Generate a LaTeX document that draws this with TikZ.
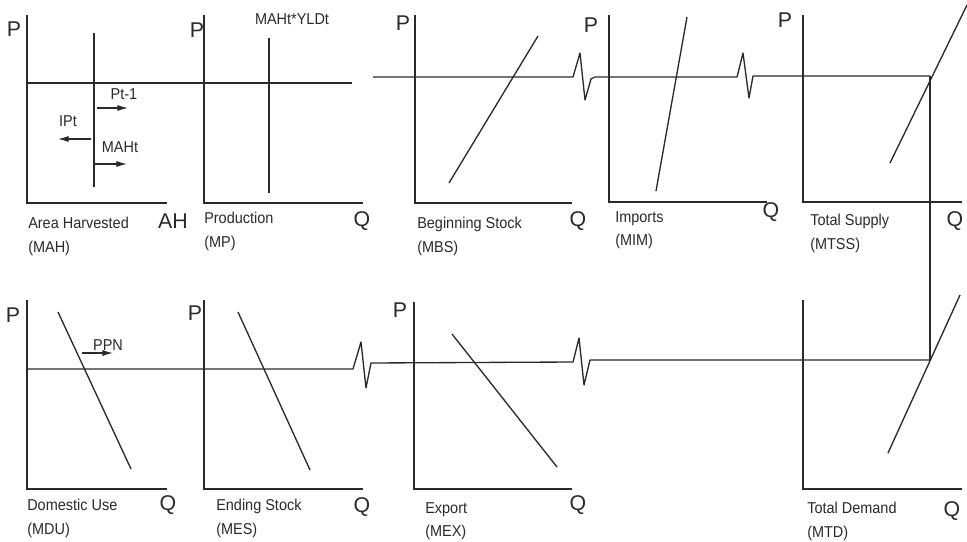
\documentclass[tikz,border=0pt]{standalone}
\usepackage{fontspec}
\setmainfont{Liberation Sans}
\newfontfamily\narrowfont[FakeStretch=0.92]{Liberation Sans}
\usetikzlibrary{arrows.meta}
\definecolor{ScanInk}{HTML}{2A2A2A}

\begin{document}
\begin{tikzpicture}[x=0.75pt,y=-0.75pt,
  axisline/.style={draw=ScanInk,line width=1pt},
  schedule/.style={draw=ScanInk,line width=1pt,line join=round},
  move/.style={draw=ScanInk,line width=0.9pt,-{Latex[length=8pt,width=4.6pt]}},
  axlbl/.style={text=ScanInk,font=\fontsize{16}{16}\selectfont,inner sep=0pt},
  tag/.style={text=ScanInk,font=\narrowfont\fontsize{11.8}{13}\selectfont,inner sep=0pt},
  panelname/.style={text=ScanInk,font=\narrowfont\fontsize{11.8}{17.5}\selectfont,inner sep=0pt,anchor=north west,align=left}
]
\useasboundingbox (0,0) rectangle (967,542);

% top row: area, production, stocks, imports, supply
\draw[axisline] (27,15) -- (27,203) -- (167,203);
\draw[axisline] (204,15) -- (204,203) -- (363,203);
\draw[axisline] (415,15) -- (415,203) -- (572,203);
\draw[axisline] (609,15) -- (609,202) -- (767,202);
\draw[axisline] (803,15) -- (803,202) -- (962,202);

\node[axlbl] (p1) at (14,29) {P};
\node[axlbl] (p2) at (197,30) {P};
\node[axlbl] (p3) at (403,23) {P};
\node[axlbl] (p4) at (591,25) {P};
\node[axlbl] (p5) at (785,20) {P};
\node[axlbl] (ah) at (173,221) {AH};
\node[axlbl] (q2) at (362,221) {Q};
\node[axlbl] (q3) at (578,221) {Q};
\node[axlbl] (q4) at (771,212) {Q};
\node[axlbl] (q5) at (955,221) {Q};

\draw[schedule] (94,33) -- (94,187);
\draw[schedule] (269,38) -- (269,193);
\draw[schedule] (449,183) -- (538,36);
\draw[schedule] (656,191) -- (687,17);
\draw[schedule] (890,163) -- (967,5);

\coordinate (eqS) at (930,76);
\coordinate (eqD) at (930,360);
\draw[schedule] (27,83) -- (352,83);
\draw[schedule] (373,77) -- (573,77) -- (580,53) -- (585,100) -- (591,79) -- (595,77)
  -- (737,77) -- (743,53) -- (749,98) -- (753,76) -- (eqS);
\draw[schedule] (eqS) -- (eqD);

\node[tag] (ptm1) at (124,94) {Pt-1};
\node[tag] (ipt) at (68,121) {IPt};
\node[tag] (maht) at (120,147) {MAHt};
\node[tag] (yld) at (292,19) {MAHt*YLDt};
\draw[move] (97,108) -- (128,108);
\draw[move] (91,139) -- (58,139);
\draw[move] (94,164) -- (127,164);

\node[panelname] (mah) at (28,217) {Area Harvested\\(MAH)};
\node[panelname] (mp) at (204,212) {Production\\(MP)};
\node[panelname] (mbs) at (417,217) {Beginning Stock\\(MBS)};
\node[panelname] (mim) at (615,211) {Imports\\(MIM)};
\node[panelname] (mtss) at (810,214) {Total Supply\\(MTSS)};

% bottom row: domestic use, ending stock, export, demand
\draw[axisline] (27,300) -- (27,489) -- (167,489);
\draw[axisline] (204,300) -- (204,489) -- (363,489);
\draw[axisline] (414,302) -- (414,489) -- (572,489);
\draw[axisline] (803,300) -- (803,489) -- (962,489);

\node[axlbl] (p6) at (13,315) {P};
\node[axlbl] (p7) at (195,313) {P};
\node[axlbl] (p8) at (400,310) {P};
\node[axlbl] (q6) at (168,505) {Q};
\node[axlbl] (q7) at (362,507) {Q};
\node[axlbl] (q8) at (578,505) {Q};
\node[axlbl] (q9) at (952,511) {Q};

\draw[schedule] (58,312) -- (131,469);
\draw[schedule] (238,312) -- (310,470);
\draw[schedule] (452,334) -- (557,467);
\draw[schedule] (888,453) -- (960,295);

\draw[schedule] (27,369) -- (353,369) -- (361,342) -- (366,388) -- (371,363)
  -- (573,362) -- (579,338) -- (584,385) -- (590,360) -- (eqD);

\draw[move] (82,353) -- (113,353);
\node[tag] (ppn) at (108,345) {PPN};

\node[panelname] (mdu) at (27,499) {Domestic Use\\(MDU)};
\node[panelname] (mes) at (216,499) {Ending Stock\\(MES)};
\node[panelname] (mex) at (425,502) {Export\\(MEX)};
\node[panelname] (mtd) at (807,502) {Total Demand\\(MTD)};
\end{tikzpicture}
\end{document}
